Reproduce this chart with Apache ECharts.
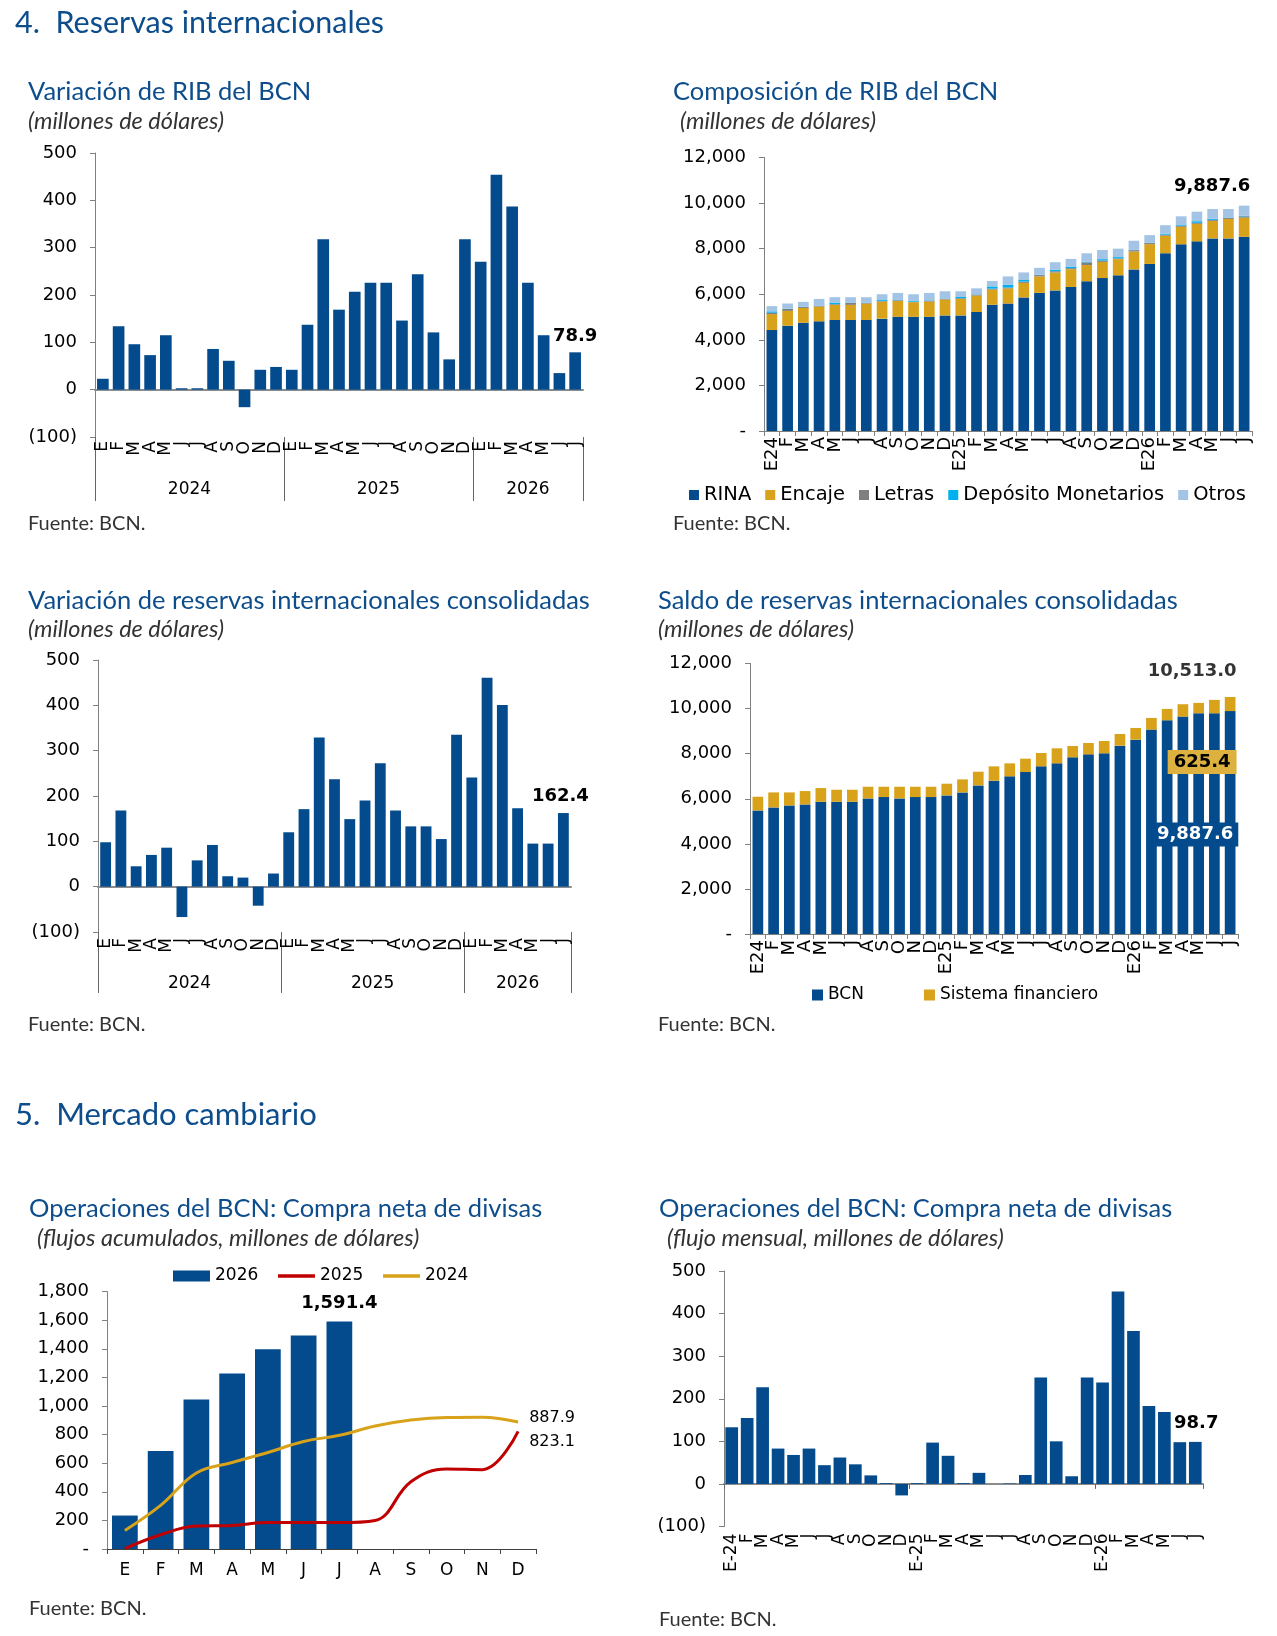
<!DOCTYPE html>
<html>
<head>
<meta charset="utf-8">
<script src="https://cdn.jsdelivr.net/npm/echarts@6/dist/echarts.min.js"></script>
<style>
  html, body { margin: 0; padding: 0; background: #fff; }
  #page { width: 1277px; height: 1636px; }
</style>
</head>
<body>
<div id="page"></div>
<script>
// ---- datos ----
var mesesLetras = ['E', 'F', 'M', 'A', 'M', 'J', 'J', 'A', 'S', 'O', 'N', 'D'];
var anios = ['2024', '2025', '2026'];
var mesesPorAnio = [12, 12, 7];
var catVar = mesesLetras.concat(mesesLetras, mesesLetras.slice(0, 7));
var catComp = ['E24', 'F', 'M', 'A', 'M', 'J', 'J', 'A', 'S', 'O', 'N', 'D',
  'E25', 'F', 'M', 'A', 'M', 'J', 'J', 'A', 'S', 'O', 'N', 'D',
  'E26', 'F', 'M', 'A', 'M', 'J', 'J'];
var catFlujo = ['E-24', 'F', 'M', 'A', 'M', 'J', 'J', 'A', 'S', 'O', 'N', 'D',
  'E-25', 'F', 'M', 'A', 'M', 'J', 'J', 'A', 'S', 'O', 'N', 'D',
  'E-26', 'F', 'M', 'A', 'M', 'J', 'J'];

// Variación de RIB del BCN
var varRib = [23, 134, 96, 73, 115, 3, 3, 86, 61, -37, 42, 48,
  42, 137, 318, 169, 207, 226, 226, 146, 244, 121, 64, 318,
  270, 454, 387, 226, 115, 35, 78.9];

// Composición de RIB del BCN
var rina = [4430, 4620, 4750, 4810, 4870, 4870, 4870, 4930, 5010, 5010, 5010, 5070,
  5070, 5220, 5540, 5590, 5860, 6060, 6170, 6320, 6570, 6710, 6830, 7090,
  7330, 7800, 8190, 8320, 8450, 8450, 8520];
var encaje = [700, 650, 650, 650, 665, 665, 720, 750, 700, 640, 670, 700,
  725, 725, 665, 665, 640, 725, 785, 780, 710, 710, 710, 785,
  870, 770, 770, 770, 770, 855, 840];
var letras = [60, 90, 40, 30, 30, 80, 30, 30, 25, 25, 40, 30,
  30, 40, 40, 40, 55, 55, 55, 45, 115, 60, 30, 60,
  45, 45, 45, 45, 45, 45, 60];
var depositos = [60, 10, 15, 15, 70, 15, 15, 60, 15, 45, 15, 15,
  55, 15, 100, 115, 70, 15, 70, 70, 30, 60, 60, 15,
  15, 45, 30, 70, 45, 15, 20];
var otros = [228, 224, 212, 290, 235, 240, 235, 230, 308, 280, 323, 315,
  250, 260, 235, 373, 332, 305, 326, 336, 372, 402, 370, 398,
  334, 369, 385, 418, 429, 374, 447.6];

// Variación de reservas internacionales consolidadas
var varCons = [98, 168, 45, 70, 86, -67, 58, 92, 23, 20, -42, 29,
  120, 171, 329, 237, 149, 190, 272, 168, 133, 133, 105, 335,
  241, 461, 401, 173, 95, 95, 162.4];

// Saldo de reservas internacionales consolidadas
var saldoBcn = [5481, 5615, 5704, 5748, 5867, 5867, 5867, 6015, 6074, 6015, 6074, 6074,
  6148, 6281, 6593, 6800, 6993, 7185, 7437, 7570, 7837, 7970, 8015, 8356,
  8622, 9067, 9481, 9644, 9793, 9793, 9887.6];
var saldoSf = [608, 666, 577, 593, 607, 533, 533, 518, 459, 518, 459, 459,
  519, 578, 607, 637, 577, 593, 593, 667, 504, 504, 548, 518,
  519, 518, 504, 549, 459, 592, 625.4];

// Compra neta de divisas, acumulada
var acum2026 = [234, 686, 1045, 1228, 1396, 1493, 1591.4];
var acum2025 = [3, 100, 160, 165, 185, 185, 185, 200, 470, 560, 555, 823.1];
var acum2024 = [130, 305, 532, 605, 675, 752, 795, 860, 902, 920, 922, 887.9];

// Compra neta de divisas, flujo mensual
var flujo = [133, 155, 227, 83, 68, 83, 44, 62, 46, 20, 2, -27,
  2, 97, 66, 2, 26, 0, 1, 21, 250, 100, 18, 250,
  238, 452, 359, 183, 169, 98, 98.7];

// ---- estilos ----
var BLUE = '#034b8c';
var GOLD = '#d8a31a';
var RED = '#c00000';
var AXIS = '#808080';
var FONT = 'DejaVu Sans';
var TFONT = 'Lato';
var TCOLOR = '#0d4d8c';

function txt(size) { return {fontFamily: FONT, fontSize: size, color: '#000'}; }
function fmtParen(v) { return v < 0 ? '(' + (-v) + ')' : String(v); }
function fmtDash(v) { return v === 0 ? '-' : echarts.format.addCommas(v); }
function fmt1(v) { return echarts.format.addCommas(Number(v).toFixed(1)); }
function boldLabel(extra) {
  return Object.assign({show: true, position: 'top', fontFamily: FONT, fontSize: 18, fontWeight: 'bold', color: '#000',
    formatter: function (p) { return fmt1(p.value); }}, extra);
}
function lastLabel(arr, label) {
  return arr.map(function (v, i) { return i === arr.length - 1 ? {value: v, label: label} : v; });
}

var opt = {animation: false, backgroundColor: '#fff', title: [], grid: [], xAxis: [], yAxis: [], series: [], legend: []};
function add(key, o) { opt[key].push(o); return opt[key].length - 1; }

function heading(text, left, cy, size, extra) {
  add('title', {text: text, left: left, top: cy - size / 2, padding: 0,
    textStyle: Object.assign({fontFamily: TFONT, fontSize: size, fontWeight: 'normal', color: TCOLOR}, extra)});
}
function titulo(text, left, cy) { heading(text, left, cy, 25.5); }
function sub(text, left, cy) { heading(text, left, cy, 23.5, {fontStyle: 'italic', color: '#333'}); }
function fuente(left, cy) { heading('Fuente: BCN.', left, cy, 20, {color: '#333'}); }

function valueY(g, min, max, interval, fmt) {
  return add('yAxis', {type: 'value', gridIndex: g, min: min, max: max, interval: interval,
    axisLine: {show: true, lineStyle: {color: AXIS}},
    axisTick: {show: true, length: 5, lineStyle: {color: AXIS}},
    splitLine: {show: false},
    axisLabel: Object.assign({formatter: fmt, margin: 18}, txt(18))});
}

// barras de variación mensual con eje de años
function varChart(grid, cats, data, gap, labelMargin, yearTick, yearMargin, labelOffset) {
  var g = add('grid', grid);
  var xm = add('xAxis', {type: 'category', gridIndex: g, position: 'bottom', data: cats,
    axisLine: {show: false, onZero: false}, axisTick: {show: false},
    axisLabel: Object.assign({rotate: 90, interval: 0, margin: labelMargin}, txt(17))});
  add('xAxis', {type: 'category', gridIndex: g, position: 'bottom', data: cats,
    axisLine: {show: true, onZero: true, lineStyle: {color: '#8c8c8c', width: 2}},
    axisTick: {show: false}, axisLabel: {show: false}});
  var bounds = [0], centers = [];
  mesesPorAnio.forEach(function (c, i) { centers.push(bounds[i] + c / 2); bounds.push(bounds[i] + c); });
  add('xAxis', {type: 'value', gridIndex: g, position: 'bottom', min: 0, max: bounds[bounds.length - 1],
    axisLine: {show: false, onZero: false}, splitLine: {show: false},
    axisTick: {show: true, length: yearTick, customValues: bounds, lineStyle: {color: '#666'}},
    axisLabel: Object.assign({customValues: centers, margin: yearMargin,
      formatter: function (v) { return anios[centers.indexOf(v)]; }}, txt(17))});
  var y = valueY(g, -100, 500, 100, fmtParen);
  add('series', {type: 'bar', xAxisIndex: xm, yAxisIndex: y, barCategoryGap: gap,
    itemStyle: {color: BLUE}, data: lastLabel(data, boldLabel({offset: labelOffset}))});
}

// ---- textos ----
heading('4.  Reservas internacionales', 15, 23, 30.5);
heading('5.  Mercado cambiario', 15, 1115, 31);

titulo('Variación de RIB del BCN', 28, 92);
sub('(millones de dólares)', 28, 122);
fuente(28, 524);

titulo('Composición de RIB del BCN', 673, 92);
sub('(millones de dólares)', 680, 122);
fuente(673, 524);

titulo('Variación de reservas internacionales consolidadas', 28, 601);
sub('(millones de dólares)', 28, 630);
fuente(28, 1025);

titulo('Saldo de reservas internacionales consolidadas', 658, 601);
sub('(millones de dólares)', 658, 630);
fuente(658, 1025);

titulo('Operaciones del BCN: Compra neta de divisas', 29, 1209);
sub('(flujos acumulados, millones de dólares)', 37, 1239);
fuente(29, 1609);

titulo('Operaciones del BCN: Compra neta de divisas', 659, 1209);
sub('(flujo mensual, millones de dólares)', 667, 1239);
fuente(659, 1620);

// ---- 1. Variación de RIB ----
varChart({left: 95, top: 153, width: 488, height: 284}, catVar, varRib, '26%', 4, 64, 44, [0, -2]);

// ---- 2. Composición de RIB ----
(function () {
  var g = add('grid', {left: 764, top: 157.5, width: 488, height: 273.5});
  var x = add('xAxis', {type: 'category', gridIndex: g, data: catComp,
    axisLine: {lineStyle: {color: AXIS}}, axisTick: {show: true, length: 5, lineStyle: {color: AXIS}},
    axisLabel: Object.assign({rotate: 90, interval: 0, margin: 6}, txt(18))});
  var y = valueY(g, 0, 12000, 2000, fmtDash);
  var parts = [['RINA', rina, BLUE], ['Encaje', encaje, GOLD], ['Letras', letras, '#7f7f7f'],
    ['Depósito Monetarios', depositos, '#00b0f0'], ['Otros', otros, '#a3c4e4']];
  var n = rina.length;
  var total = parts.reduce(function (s, p) { return s + p[1][n - 1]; }, 0);
  parts.forEach(function (p, k) {
    var data = p[1];
    if (k === parts.length - 1) {
      data = lastLabel(data, boldLabel({offset: [-32, -5], formatter: function () { return fmt1(total); }}));
    }
    add('series', {type: 'bar', name: p[0], stack: 'rib', xAxisIndex: x, yAxisIndex: y,
      barCategoryGap: '32%', itemStyle: {color: p[2]}, data: data});
  });
  add('legend', {data: parts.map(function (p) { return p[0]; }), left: 689, top: 485, padding: 0,
    itemWidth: 10, itemHeight: 10, itemGap: 14, icon: 'rect', textStyle: txt(19.5)});
})();

// ---- 3. Variación de reservas consolidadas ----
varChart({left: 98, top: 660, width: 473, height: 272}, catVar, varCons, '29%', 6, 61, 43, [-3, -3]);

// ---- 4. Saldo de reservas consolidadas ----
(function () {
  var g = add('grid', {left: 750, top: 663.5, width: 488, height: 270.5});
  var x = add('xAxis', {type: 'category', gridIndex: g, data: catComp,
    axisLine: {lineStyle: {color: AXIS}}, axisTick: {show: true, length: 5, lineStyle: {color: AXIS}},
    axisLabel: Object.assign({rotate: 90, interval: 0, margin: 6}, txt(18))});
  var y = valueY(g, 0, 12000, 2000, fmtDash);
  add('series', {type: 'bar', name: 'BCN', stack: 'saldo', xAxisIndex: x, yAxisIndex: y,
    barCategoryGap: '32%', itemStyle: {color: BLUE},
    data: lastLabel(saldoBcn, boldLabel({position: 'inside', offset: [-35, 12], color: '#fff',
      backgroundColor: BLUE, padding: [3, 5]}))});
  add('series', {type: 'bar', name: 'Sistema financiero', stack: 'saldo', xAxisIndex: x, yAxisIndex: y,
    barCategoryGap: '32%', itemStyle: {color: GOLD},
    data: lastLabel(saldoSf, boldLabel({position: 'inside', offset: [-28, 58], color: '#000',
      backgroundColor: '#dcb13f', padding: [3, 6]}))});
  var totales = saldoBcn.map(function (v, i) { return v + saldoSf[i]; });
  add('series', {type: 'scatter', xAxisIndex: x, yAxisIndex: y, symbolSize: 0, silent: true,
    data: totales.map(function (v, i) {
      return i === totales.length - 1 ? {value: v, label: boldLabel({offset: [-38, -12]})} : '-';
    })});
  add('legend', {data: ['BCN', 'Sistema financiero'], left: 812, top: 986.5, padding: 0,
    itemWidth: 11, itemHeight: 11, itemGap: 60, icon: 'rect', textStyle: txt(17)});
})();

// ---- 5. Compra neta acumulada ----
(function () {
  var g = add('grid', {left: 107, top: 1291.6, width: 429, height: 257.4});
  var x = add('xAxis', {type: 'category', gridIndex: g, data: mesesLetras,
    axisLine: {lineStyle: {color: '#404040'}}, axisTick: {show: true, length: 5, lineStyle: {color: '#404040'}},
    axisLabel: Object.assign({interval: 0, margin: 13}, txt(17))});
  var y = valueY(g, 0, 1800, 200, fmtDash);
  add('series', {type: 'bar', name: '2026', xAxisIndex: x, yAxisIndex: y, barCategoryGap: '28%',
    itemStyle: {color: BLUE}, data: lastLabel(acum2026, boldLabel({offset: [0, -4]}))});
  add('series', {type: 'line', name: '2025', xAxisIndex: x, yAxisIndex: y, smooth: 0.4, symbol: 'none',
    lineStyle: {color: RED, width: 3}, itemStyle: {color: RED},
    endLabel: Object.assign({show: true, offset: [3, 11], formatter: function (p) { return fmt1(p.value); }}, txt(16)),
    data: acum2025});
  add('series', {type: 'line', name: '2024', xAxisIndex: x, yAxisIndex: y, smooth: 0.4, symbol: 'none',
    lineStyle: {color: GOLD, width: 3}, itemStyle: {color: GOLD},
    endLabel: Object.assign({show: true, offset: [3, -4], formatter: function (p) { return fmt1(p.value); }}, txt(16)),
    data: acum2024});
  add('legend', {data: [{name: '2026', icon: 'rect'},
      {name: '2025', itemStyle: {opacity: 0}, lineStyle: {width: 3.5, color: RED}},
      {name: '2024', itemStyle: {opacity: 0}, lineStyle: {width: 3.5, color: GOLD}}],
    left: 173, top: 1267.5, padding: 0, itemWidth: 37, itemHeight: 11, itemGap: 18, textStyle: txt(17)});
})();

// ---- 6. Compra neta mensual ----
(function () {
  var g = add('grid', {left: 724, top: 1271, width: 479, height: 255.5});
  var xm = add('xAxis', {type: 'category', gridIndex: g, position: 'bottom', data: catFlujo,
    axisLine: {show: false, onZero: false}, axisTick: {show: false},
    axisLabel: Object.assign({rotate: 90, interval: 0, margin: 7}, txt(17))});
  add('xAxis', {type: 'category', gridIndex: g, position: 'bottom', data: catFlujo,
    axisLine: {show: true, onZero: true, lineStyle: {color: '#8c8c8c', width: 2}},
    axisTick: {show: true, interval: 11, length: 5, lineStyle: {color: '#666'}}, axisLabel: {show: false}});
  var y = valueY(g, -100, 500, 100, fmtParen);
  add('series', {type: 'bar', xAxisIndex: xm, yAxisIndex: y, barCategoryGap: '18%',
    itemStyle: {color: BLUE}, data: lastLabel(flujo, boldLabel({offset: [1, -5]}))});
})();

var chart = echarts.init(document.getElementById('page'), null, {renderer: 'canvas'});
chart.setOption(opt);
</script>
</body>
</html>
